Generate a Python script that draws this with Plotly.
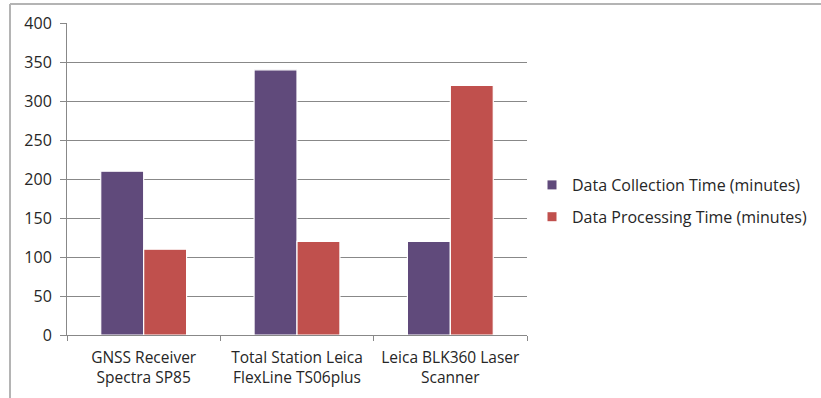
import plotly.graph_objects as go

categories = ["GNSS Receiver<br>Spectra SP85", "Total Station Leica<br>FlexLine TS06plus", "Leica BLK360 Laser<br>Scanner"]
collection_time = [210, 340, 120]
processing_time = [110, 120, 320]
series_names = ["Data Collection Time (minutes)", "Data Processing Time (minutes)"]
colors = ["#604A7B", "#C0504D"]

W, H = 821, 398
L, R, T, B = 67, 527, 23, 335

fig = go.Figure()
for name, vals, c in zip(series_names, [collection_time, processing_time], colors):
    fig.add_trace(go.Bar(x=categories, y=vals, name=name, marker=dict(color=c, line=dict(color="white", width=1.2)),
                         showlegend=False))
    fig.add_trace(go.Scatter(x=[None], y=[None], mode="markers", name=name, legendgroup=name,
                             marker=dict(symbol="square", size=9, color=c)))

def px(x):
    return (x - L) / (R - L)

def py(y):
    return (B - y) / (B - T)

border = "#B4B4B4"
fig.add_shape(type="line", xref="paper", yref="paper", x0=px(10), x1=px(W + 5), y0=py(4), y1=py(4),
              line=dict(color=border, width=2))
fig.add_shape(type="line", xref="paper", yref="paper", x0=px(10), x1=px(10), y0=py(4), y1=py(H + 5),
              line=dict(color=border, width=2))

axis_col = "#888888"
fig.update_layout(
    width=W, height=H,
    margin=dict(l=L, r=W - R, t=T, b=H - B, autoexpand=False),
    paper_bgcolor="white", plot_bgcolor="white",
    font=dict(family="Open Sans", size=16, color="#262626"),
    barmode="group", bargap=0.44, bargroupgap=0,
    legend=dict(x=px(532), y=py(201), xanchor="left", yanchor="middle", font=dict(size=16),
                tracegroupgap=8, traceorder="grouped", itemwidth=30),
    xaxis=dict(showline=True, linecolor=axis_col, linewidth=1, ticks="outside", tickson="boundaries",
               ticklen=5, tickcolor=axis_col, showgrid=False, fixedrange=True, tickangle=0,
               automargin=False, tickfont=dict(size=15.5), ticklabelstandoff=8),
    yaxis=dict(range=[0, 400], dtick=50, showline=True, linecolor=axis_col, linewidth=1, ticks="outside",
               ticklen=6, tickcolor=axis_col, gridcolor=axis_col, gridwidth=1, zeroline=False, fixedrange=True,
               ticklabelstandoff=5, automargin=False),
)

fig.write_html("out.html")
